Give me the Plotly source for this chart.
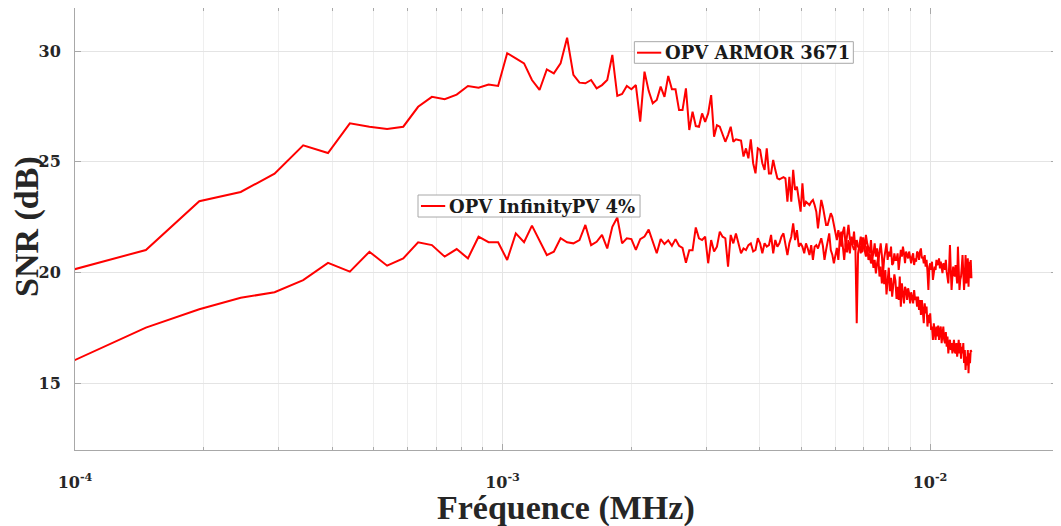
import numpy as np
import plotly.graph_objects as go

# FFT bin grid (MHz): bins 2..256 with a constant step
FREQ_STEP_MHZ = 4.8828125e-5
FIRST_BIN, LAST_BIN = 2, 256

SERIES_NAMES = ["OPV ARMOR 3671", "OPV InfinityPV 4%"]
X_TITLE = "Fréquence (MHz)"
Y_TITLE = "SNR (dB)"

snr_armor = [
    20.09, 21.01, 23.21, 23.63, 24.46, 25.74, 25.39, 26.73, 26.58, 26.48,
    26.58, 27.48, 27.93, 27.82, 28.03, 28.42, 28.34, 28.49, 28.42, 29.90,
    29.67, 29.44, 28.69, 28.24, 29.17, 28.99, 29.44, 30.60, 28.92, 28.57,
    28.54, 28.69, 28.31, 28.46, 28.69, 29.82, 27.97, 28.06, 28.42, 28.27,
    28.46, 26.81, 29.07, 28.20, 27.64, 27.79, 28.39, 27.93, 28.87, 28.27,
    28.27, 27.33, 27.33, 28.31, 26.43, 27.26, 26.61, 26.58, 27.18, 26.80,
    27.18, 28.01, 26.13, 26.65, 26.58, 26.20, 25.90, 26.20, 26.58, 25.90,
    26.01, 25.98, 25.95, 25.23, 25.60, 25.15, 26.01, 24.93, 24.47, 25.60,
    25.53, 24.93, 24.63, 25.60, 24.47, 24.47, 25.08, 24.63, 24.25, 24.20,
    24.25, 24.30, 24.25, 23.19, 24.32, 23.19, 24.63, 23.72, 23.87, 23.27,
    22.74, 24.02, 22.97, 23.19, 23.10, 23.04, 23.19, 23.27, 23.04, 22.74,
    21.99, 22.52, 23.27, 22.97, 22.60, 22.14, 22.14, 22.40, 22.67, 22.51,
    22.10, 21.80, 21.46, 21.91, 21.60, 21.16, 21.80, 22.06, 21.16, 21.70,
    22.14, 21.50, 21.46, 21.20, 21.01, 21.16, 17.70, 20.86, 21.30, 21.61,
    20.90, 21.46, 21.01, 20.71, 21.20, 20.56, 20.86, 20.40, 20.71, 20.20,
    20.56, 19.95, 20.41, 20.70, 19.81, 20.26, 19.50, 20.11, 19.46, 20.10,
    19.00, 19.61, 20.21, 19.15, 19.75, 18.90, 19.46, 19.91, 19.61, 18.80,
    19.35, 18.75, 19.81, 18.45, 19.50, 19.05, 18.60, 19.35, 19.20, 18.75,
    19.28, 19.05, 18.60, 19.10, 18.90, 18.60, 19.20, 18.75, 18.90, 18.45,
    18.90, 18.30, 18.75, 18.08, 18.75, 18.20, 17.70, 18.60, 18.15, 18.45,
    17.55, 18.08, 17.70, 18.15, 17.40, 17.55, 16.95, 17.70, 17.25, 16.95,
    17.55, 17.10, 17.60, 16.95, 17.40, 17.55, 16.80, 17.25, 17.55, 16.95,
    16.80, 17.30, 16.64, 17.10, 16.34, 16.80, 16.95, 16.49, 16.80, 16.34,
    16.64, 16.95, 16.40, 16.34, 16.80, 16.19, 16.49, 16.95, 16.34, 16.80,
    16.10, 16.64, 16.34, 16.80, 15.90, 16.49, 15.59, 16.19, 15.80, 16.49,
    15.44, 16.34, 15.90, 16.49, 16.40,
]

snr_infinity = [
    15.95, 17.50, 18.33, 18.85, 19.10, 19.65, 20.43, 20.03, 20.93, 20.30,
    20.63, 21.36, 21.23, 20.71, 21.05, 20.63, 21.61, 21.36, 21.36, 20.56,
    21.76, 21.36, 22.11, 21.46, 20.78, 20.93, 21.54, 21.36, 21.31, 21.46,
    22.14, 21.23, 21.38, 21.69, 21.08, 22.06, 22.48, 21.31, 21.54, 21.50,
    21.01, 21.50, 21.62, 21.93, 21.38, 20.86, 21.50, 21.28, 21.45, 21.20,
    21.50, 21.20, 21.10, 20.43, 21.00, 21.00, 22.03, 21.54, 21.46, 21.61,
    20.41, 21.46, 20.94, 21.16, 21.84, 21.61, 21.54, 20.26, 21.69, 21.31,
    21.76, 21.31, 20.86, 21.08, 21.01, 21.23, 21.31, 20.94, 21.01, 21.54,
    21.31, 20.86, 21.31, 21.16, 21.23, 21.69, 20.86, 21.46, 21.16, 21.31,
    21.61, 21.76, 21.16, 20.78, 21.31, 21.61, 22.21, 21.46, 21.91, 21.16,
    21.31, 21.16, 20.86, 21.31, 21.08, 20.78, 21.23, 20.56, 21.16, 21.23,
    21.08, 21.31, 21.54, 21.20, 20.56, 21.01, 21.40, 21.76, 21.01, 20.80,
    20.41, 20.71, 21.10, 20.56, 21.54, 21.84, 21.20, 20.56, 21.31, 20.90,
    21.46, 20.86, 21.61, 21.23, 21.84, 21.01, 21.46, 21.16, 21.16, 20.86,
    21.54, 21.54, 20.94, 21.69, 21.31, 21.01, 20.86, 21.46, 20.63, 20.86,
    21.31, 20.71, 21.08, 20.48, 21.01, 21.31, 20.78, 19.95, 20.63, 21.01,
    21.31, 20.56, 20.94, 20.71, 21.16, 20.33, 20.41, 20.86, 20.56, 20.56,
    20.86, 20.11, 20.56, 21.01, 20.71, 21.16, 20.86, 20.41, 20.94, 20.71,
    20.63, 20.94, 20.56, 20.41, 20.71, 20.86, 20.33, 20.63, 20.48, 20.94,
    20.86, 20.56, 20.94, 21.08, 20.63, 20.71, 20.41, 20.78, 20.26, 20.56,
    20.03, 19.20, 20.26, 20.41, 20.11, 20.48, 19.66, 20.03, 20.26, 20.11,
    20.56, 20.33, 20.41, 20.63, 20.18, 20.48, 20.26, 19.96, 20.41, 20.33,
    20.11, 20.56, 20.03, 19.81, 19.50, 20.26, 21.23, 20.11, 19.20, 19.81,
    20.26, 19.96, 19.81, 20.33, 20.03, 19.50, 21.16, 20.11, 19.20, 19.66,
    19.81, 20.26, 20.78, 19.96, 19.20, 19.81, 20.78, 19.50, 20.11, 20.63,
    19.35, 20.48, 19.73, 20.56, 19.73,
]

X_TICK_VALUES = [1e-4, 1e-3, 1e-2]
X_TICK_LABELS = ["10<sup>-4</sup>", "10<sup>-3</sup>", "10<sup>-2</sup>"]
Y_TICK_VALUES = [15, 20, 25, 30]

freq = FREQ_STEP_MHZ * np.arange(FIRST_BIN, LAST_BIN + 1)

TITLE_FONT = "Liberation Serif"
TICK_FONT = "DejaVu Serif"
LINE_RED = "#ff0000"
FRAME = "#a8a8a8"
GRID = "#e4e4e4"
MINOR_GRID = "#efefef"
TEXT = "#262626"

minor_vals = [m * 10.0 ** e for e in (-4, -3, -2) for m in range(2, 10)]

fig = go.Figure()
fig.add_trace(go.Scatter(x=freq, y=snr_armor, mode="lines", name=SERIES_NAMES[0],
                         line=dict(color=LINE_RED, width=2), showlegend=False))
fig.add_trace(go.Scatter(x=freq, y=snr_infinity, mode="lines", name=SERIES_NAMES[1],
                         line=dict(color=LINE_RED, width=2), showlegend=False))

# Legend boxes (MATLAB-style, one per series), in paper coordinates
legend_boxes = [
    dict(name=SERIES_NAMES[0], bx=(0.5696, 0.7926), by=(0.8749, 0.9238),
         lx=(0.5723, 0.5970), ly=0.8989, tx=0.5985),
    dict(name=SERIES_NAMES[1], bx=(0.3493, 0.5754), by=(0.5271, 0.5769),
         lx=(0.3523, 0.3770), ly=0.5520, tx=0.3788),
]
for lb in legend_boxes:
    fig.add_shape(type="rect", xref="paper", yref="paper",
                  x0=lb["bx"][0], x1=lb["bx"][1], y0=lb["by"][0], y1=lb["by"][1],
                  fillcolor="white", line=dict(color=FRAME, width=1), layer="above")
    fig.add_shape(type="line", xref="paper", yref="paper",
                  x0=lb["lx"][0], x1=lb["lx"][1], y0=lb["ly"], y1=lb["ly"],
                  line=dict(color=LINE_RED, width=2), layer="above")
    fig.add_annotation(xref="paper", yref="paper", x=lb["tx"], y=lb["ly"],
                       xanchor="left", yanchor="middle", showarrow=False,
                       text=lb["name"],
                       font=dict(family=TICK_FONT, size=18, color="#1a1a1a", weight="bold"))

# Axis titles placed as annotations for exact positioning
title_font = dict(family=TITLE_FONT, size=34, color=TEXT, weight="bold")
fig.add_annotation(xref="paper", yref="paper", x=0.5, y=0, yshift=-58,
                   xanchor="center", yanchor="middle", showarrow=False,
                   text=X_TITLE, font=title_font)
fig.add_annotation(xref="paper", yref="paper", x=0, y=0.5045, xshift=-48,
                   xanchor="center", yanchor="middle", showarrow=False,
                   textangle=-90, text=Y_TITLE, font=title_font)

# The page body has an 8px margin, so the figure is sized to fit the window.
fig.update_layout(
    width=1053, height=518,
    margin=dict(l=67, r=4, t=0, b=76),
    paper_bgcolor="white", plot_bgcolor="white",
    font=dict(family=TITLE_FONT, color=TEXT),
    showlegend=False,
    xaxis=dict(
        type="log", range=[-4, -1.703], automargin=False,
        showline=True, linecolor=FRAME, linewidth=1, mirror="allticks",
        ticks="inside", ticklen=6, tickcolor=FRAME,
        tickvals=X_TICK_VALUES, ticktext=X_TICK_LABELS,
        tickfont=dict(family=TICK_FONT, size=16, color=TEXT, weight="bold"),
        ticklabelstandoff=18,
        showgrid=True, gridcolor=GRID, gridwidth=1,
        minor=dict(tickvals=minor_vals, ticks="inside", ticklen=3, tickcolor=FRAME,
                   showgrid=True, gridcolor=MINOR_GRID, gridwidth=1),
        zeroline=False,
    ),
    yaxis=dict(
        range=[11.973, 31.943], automargin=False,
        showline=True, linecolor=FRAME, linewidth=1, mirror="allticks",
        ticks="inside", ticklen=6, tickcolor=FRAME,
        tickvals=Y_TICK_VALUES,
        tickfont=dict(family=TICK_FONT, size=16, color=TEXT, weight="bold"),
        ticklabelstandoff=10,
        showgrid=True, gridcolor=GRID, gridwidth=1,
        zeroline=False,
    ),
)

fig.write_html("out.html")
